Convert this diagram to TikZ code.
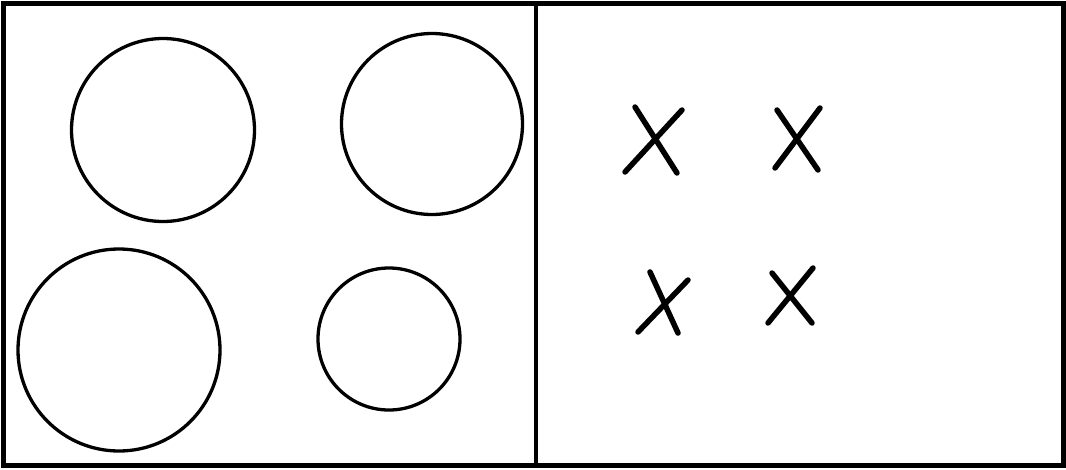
\documentclass[tikz,border=0pt]{standalone}
\usepackage{tikz}

\begin{document}
\begin{tikzpicture}[x=1pt,y=-1pt,
  frame/.style={draw,line width=5pt},
  ring/.style={circle,draw,line width=3.3pt,inner sep=0pt},
  cross/.style={line width=5.5pt,line cap=round}]
\useasboundingbox (0,0) rectangle (1066,469);
% panels
\draw[frame] (3,3) rectangle (1063,465);
\draw[line width=4pt] (536,3) -- (536,465);
% left panel: circles
\node[ring,minimum size=183pt] (tl) at (163,130) {};
\node[ring,minimum size=181pt] (tr) at (432,124) {};
\node[ring,minimum size=202pt] (bl) at (119,350) {};
\node[ring,minimum size=142pt] (br) at (389,339) {};
% right panel: crosses
\draw[cross] (635,107) -- (677,173);
\draw[cross] (682,110) -- (625,172);
\draw[cross] (777,110) -- (818,170);
\draw[cross] (820,108) -- (775,168);
\draw[cross] (650,272) -- (678,333);
\draw[cross] (688,280) -- (638,332);
\draw[cross] (772,273) -- (812,323);
\draw[cross] (813,268) -- (768,323);
\end{tikzpicture}
\end{document}
